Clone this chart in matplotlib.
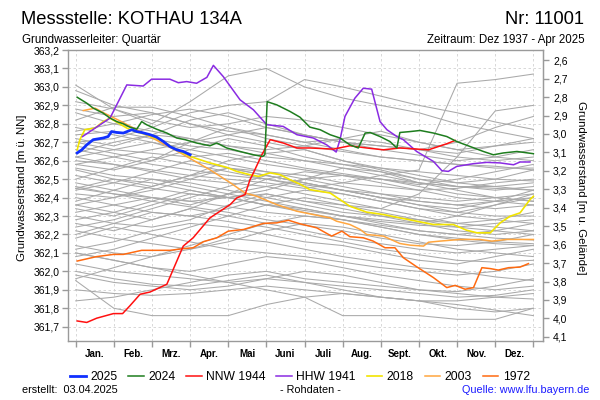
import numpy as np
import matplotlib
matplotlib.use("Agg")
import matplotlib.pyplot as plt
from matplotlib.ticker import FixedLocator, FuncFormatter

plt.rcParams['font.family'] = ['Liberation Sans', 'DejaVu Sans']

# ---------------- data ----------------
ground_level = 365.745  # m ü. NN (for depth axis)
month_labels = ["Jan.", "Feb.", "Mrz.", "Apr.", "Mai", "Juni", "Juli", "Aug.", "Sept.", "Okt.", "Nov.", "Dez."]
left_ticks = [361.7, 361.8, 361.9, 362.0, 362.1, 362.2, 362.3, 362.4, 362.5, 362.6, 362.7, 362.8, 362.9, 363.0, 363.1, 363.2]
right_ticks = [2.6, 2.7, 2.8, 2.9, 3.0, 3.1, 3.2, 3.3, 3.4, 3.5, 3.6, 3.7, 3.8, 3.9, 4.0, 4.1]

# x values are fractional months (0 = 1 Jan, 12 = 31 Dec)
y2025_x = [0.04, 0.16, 0.29, 0.46, 0.72, 0.85, 0.94, 1.08, 1.25, 1.47, 1.60, 1.73, 1.95, 2.12, 2.30, 2.47, 2.65, 2.82, 3.00]
y2025_v = [362.642, 362.659, 362.686, 362.714, 362.723, 362.731, 362.758, 362.753, 362.750, 362.768, 362.758, 362.753,
           362.741, 362.728, 362.704, 362.677, 362.659, 362.650, 362.632]

y2024_x = [0.04, 0.29, 0.46, 0.72, 0.90, 1.08, 1.25, 1.42, 1.60, 1.73, 1.86, 2.12, 2.39, 2.65, 2.87, 3.17, 3.52, 3.70,
           3.96, 4.31, 4.66, 4.90, 4.96, 5.02, 5.27, 5.62, 5.88, 6.14, 6.41, 6.67, 6.93, 7.19, 7.41, 7.59, 7.72, 7.98,
           8.24, 8.42, 8.50, 8.77, 9.03, 9.38, 9.73, 9.99, 10.34, 10.69, 10.95, 11.21, 11.57, 12.0]
y2024_v = [362.944, 362.912, 362.885, 362.858, 362.831, 362.812, 362.800, 362.782, 362.771, 362.812, 362.795, 362.771,
           362.750, 362.723, 362.714, 362.696, 362.681, 362.696, 362.669, 362.650, 362.632, 362.623, 362.632, 362.920,
           362.903, 362.867, 362.836, 362.782, 362.768, 362.741, 362.723, 362.686, 362.669, 362.750, 362.753, 362.731,
           362.704, 362.669, 362.753, 362.758, 362.764, 362.750, 362.731, 362.704, 362.677, 362.650, 362.632, 362.642,
           362.650, 362.638]

nnw1944_x = [0.04, 0.29, 0.55, 0.99, 1.23, 1.42, 1.69, 1.95, 2.39, 2.82, 3.08, 3.52, 4.05, 4.22, 4.44, 4.57, 4.66,
             4.88, 5.10, 5.44, 5.80, 6.14, 6.76, 7.19, 7.63, 8.07, 8.50, 9.25, 9.73, 9.95]
nnw1944_v = [361.731, 361.723, 361.746, 361.771, 361.771, 361.813, 361.876, 361.888, 361.930, 362.137, 362.182,
             362.290, 362.362, 362.398, 362.416, 362.497, 362.534, 362.632, 362.714, 362.696, 362.669, 362.669,
             362.663, 362.681, 362.669, 362.659, 362.669, 362.659, 362.692, 362.710]

hhw1941_x = [0.18, 0.90, 1.34, 1.77, 1.99, 2.47, 2.69, 2.91, 3.17, 3.44, 3.61, 3.87, 4.31, 4.66, 5.01, 5.44, 5.80,
             6.23, 6.58, 6.83, 6.93, 7.06, 7.32, 7.54, 7.76, 7.98, 8.16, 8.42, 8.59, 8.94, 9.38, 9.60, 9.77, 9.99,
             10.43, 10.78, 11.13, 11.48, 11.65, 11.91]
hhw1941_v = [362.731, 362.831, 363.011, 363.005, 363.042, 363.042, 363.023, 363.029, 363.020, 363.052, 363.117,
             363.056, 362.930, 362.876, 362.795, 362.786, 362.741, 362.723, 362.686, 362.647, 362.714, 362.840,
             362.939, 362.993, 362.988, 362.812, 362.768, 362.731, 362.714, 362.650, 362.596, 362.546, 362.542,
             362.569, 362.584, 362.591, 362.588, 362.578, 362.593, 362.593]

y2018_x = [0.04, 0.11, 0.24, 0.51, 0.72, 0.90, 1.12, 1.34, 1.56, 1.86, 2.30, 2.65, 3.00, 3.52, 3.96, 4.22, 4.57, 4.79,
           5.10, 5.36, 5.62, 5.88, 6.14, 6.41, 6.67, 6.93, 7.19, 7.63, 8.07, 8.50, 8.94, 9.38, 9.90, 10.25, 10.52,
           10.87, 11.13, 11.39, 11.65, 11.91, 12.0]
y2018_v = [362.659, 362.714, 362.768, 362.777, 362.812, 362.831, 362.804, 362.777, 362.758, 362.741, 362.704, 362.659,
           362.623, 362.588, 362.564, 362.542, 362.524, 362.515, 362.534, 362.524, 362.497, 362.473, 362.443, 362.434,
           362.425, 362.389, 362.353, 362.321, 362.308, 362.290, 362.272, 362.254, 362.254, 362.223, 362.209, 362.209,
           362.263, 362.299, 362.317, 362.389, 362.407]

y2003_x = [0.20, 0.51, 0.72, 1.16, 1.95, 2.74, 3.52, 4.05, 4.44, 4.75, 5.27, 5.80, 6.23, 6.67, 6.84, 7.19, 7.46, 7.63,
           8.07, 8.50, 8.77, 9.12, 9.25, 9.55, 10.08, 10.60, 10.91, 11.30, 12.0]
y2003_v = [362.872, 362.885, 362.861, 362.816, 362.730, 362.643, 362.551, 362.481, 362.425, 362.407, 362.362, 362.326,
           362.308, 362.290, 362.272, 362.254, 362.227, 362.200, 362.191, 362.151, 362.142, 362.137, 362.158, 362.164,
           362.173, 362.173, 362.164, 362.173, 362.173]

y1972_x = [0.04, 0.55, 0.99, 1.25, 1.73, 2.47, 2.82, 3.08, 3.35, 3.70, 4.00, 4.40, 4.92, 5.27, 5.58, 5.88, 6.14, 6.32,
           6.71, 6.98, 7.19, 7.54, 7.80, 8.11, 8.37, 8.59, 8.94, 9.38, 9.73, 9.95, 10.21, 10.43, 10.65, 10.87, 11.08,
           11.35, 11.65, 11.87]
y1972_v = [362.056, 362.080, 362.092, 362.092, 362.114, 362.114, 362.123, 362.128, 362.161, 362.182, 362.218, 362.227,
           362.260, 362.263, 362.277, 362.258, 362.245, 362.236, 362.191, 362.218, 362.188, 362.182, 362.164, 362.128,
           362.128, 362.074, 362.025, 361.966, 361.912, 361.924, 361.903, 361.912, 362.020, 362.015, 362.007, 362.020,
           362.023, 362.042]

# other years (grey), monthly values at 1 Jan, 1 Feb, ..., 1 Dec, 31 Dec
gray_x = [0, 1, 2, 3, 4, 5, 6, 7, 8, 9, 10, 11, 12]
g01 = [362.98, 362.90, 362.86, 362.80, 362.74, 362.70, 362.66, 362.60, 362.56, 362.52, 362.48, 362.46, 362.44]
g02 = [363.01, 362.88, 362.80, 362.92, 363.06, 363.10, 363.00, 362.94, 362.90, 362.86, 362.80, 362.76, 362.72]
g03 = [362.70, 362.72, 362.78, 362.86, 362.90, 362.92, 363.04, 363.00, 362.95, 362.90, 362.86, 362.81, 362.77]
g04 = [362.62, 362.58, 362.55, 362.52, 362.50, 362.48, 362.45, 362.48, 362.52, 362.55, 363.02, 363.04, 363.07]
g05 = [362.45, 362.42, 362.40, 362.38, 362.40, 362.42, 362.38, 362.36, 362.34, 362.42, 362.62, 362.87, 362.90]
g06 = [362.88, 362.84, 362.86, 362.80, 362.76, 362.74, 362.70, 362.66, 362.62, 362.60, 362.58, 362.56, 362.56]
g07 = [362.82, 362.89, 362.89, 362.84, 362.78, 362.72, 362.68, 362.65, 362.62, 362.60, 362.58, 362.57, 362.55]
g08 = [362.76, 362.80, 362.85, 362.88, 362.84, 362.78, 362.74, 362.70, 362.66, 362.63, 362.60, 362.62, 362.66]
g09 = [362.72, 362.68, 362.74, 362.82, 362.86, 362.80, 362.74, 362.70, 362.68, 362.66, 362.64, 362.68, 362.72]
g10 = [362.68, 362.64, 362.60, 362.70, 362.78, 362.74, 362.70, 362.72, 362.76, 362.70, 362.66, 362.62, 362.60]
g11 = [362.66, 362.62, 362.58, 362.55, 362.52, 362.50, 362.47, 362.44, 362.42, 362.40, 362.38, 362.40, 362.42]
g12 = [362.62, 362.66, 362.70, 362.64, 362.58, 362.54, 362.52, 362.48, 362.46, 362.44, 362.45, 362.48, 362.50]
g13 = [362.58, 362.55, 362.60, 362.66, 362.72, 362.68, 362.62, 362.58, 362.54, 362.50, 362.46, 362.44, 362.46]
g14 = [362.55, 362.50, 362.46, 362.52, 362.60, 362.64, 362.66, 362.60, 362.55, 362.50, 362.48, 362.50, 362.55]
g15 = [362.52, 362.48, 362.45, 362.42, 362.40, 362.44, 362.50, 362.56, 362.54, 362.48, 362.44, 362.40, 362.38]
g16 = [362.50, 362.56, 362.62, 362.58, 362.54, 362.50, 362.46, 362.42, 362.38, 362.34, 362.30, 362.28, 362.26]
g17 = [362.48, 362.44, 362.40, 362.36, 362.42, 362.50, 362.54, 362.52, 362.48, 362.44, 362.40, 362.38, 362.36]
g18 = [362.45, 362.50, 362.48, 362.44, 362.40, 362.36, 362.34, 362.30, 362.28, 362.26, 362.30, 362.36, 362.42]
g19 = [362.42, 362.40, 362.46, 362.52, 362.56, 362.52, 362.48, 362.44, 362.40, 362.36, 362.32, 362.30, 362.30]
g20 = [362.40, 362.36, 362.32, 362.30, 362.34, 362.40, 362.44, 362.42, 362.38, 362.34, 362.32, 362.36, 362.40]
g21 = [362.38, 362.44, 362.50, 362.48, 362.44, 362.40, 362.36, 362.32, 362.30, 362.28, 362.26, 362.24, 362.22]
g22 = [362.36, 362.32, 362.28, 362.34, 362.42, 362.46, 362.42, 362.38, 362.34, 362.30, 362.26, 362.28, 362.32]
g23 = [362.34, 362.30, 362.36, 362.42, 362.40, 362.36, 362.33, 362.30, 362.27, 362.25, 362.24, 362.26, 362.28]
g24 = [362.32, 362.36, 362.40, 362.38, 362.35, 362.32, 362.30, 362.28, 362.25, 362.22, 362.20, 362.18, 362.17]
g25 = [362.30, 362.26, 362.24, 362.28, 362.36, 362.42, 362.38, 362.34, 362.30, 362.26, 362.22, 362.20, 362.22]
g26 = [362.78, 362.74, 362.70, 362.66, 362.62, 362.58, 362.55, 362.52, 362.50, 362.48, 362.46, 362.45, 362.44]
g27 = [362.74, 362.76, 362.72, 362.68, 362.66, 362.62, 362.60, 362.56, 362.52, 362.48, 362.46, 362.46, 362.48]
g28 = [362.70, 362.66, 362.64, 362.62, 362.64, 362.60, 362.56, 362.53, 362.50, 362.47, 362.50, 362.54, 362.58]
g29 = [362.64, 362.70, 362.74, 362.72, 362.68, 362.64, 362.60, 362.58, 362.56, 362.54, 362.52, 362.50, 362.49]
g30 = [362.60, 362.58, 362.54, 362.50, 362.48, 362.46, 362.50, 362.52, 362.50, 362.46, 362.42, 362.40, 362.38]
g31 = [362.26, 362.22, 362.28, 362.34, 362.30, 362.26, 362.22, 362.18, 362.15, 362.12, 362.10, 362.12, 362.14]
g32 = [362.22, 362.18, 362.15, 362.12, 362.16, 362.22, 362.26, 362.24, 362.20, 362.16, 362.12, 362.10, 362.08]
g33 = [362.18, 362.24, 362.20, 362.16, 362.12, 362.10, 362.08, 362.05, 362.02, 362.00, 361.98, 362.00, 362.04]
g34 = [362.14, 362.10, 362.08, 362.12, 362.18, 362.16, 362.12, 362.08, 362.05, 362.02, 362.00, 361.97, 361.95]
g35 = [362.10, 362.06, 362.02, 362.00, 362.04, 362.08, 362.06, 362.02, 361.98, 361.95, 361.92, 361.90, 361.92]
g36 = [362.04, 362.00, 361.98, 361.96, 361.94, 361.96, 362.00, 361.98, 361.94, 361.90, 361.88, 361.86, 361.85]
g37 = [361.98, 361.94, 361.92, 361.90, 361.92, 361.96, 361.94, 361.92, 361.90, 361.88, 361.86, 361.87, 361.90]
g38 = [361.90, 361.88, 361.87, 361.88, 361.90, 361.92, 361.90, 361.88, 361.86, 361.84, 361.84, 361.86, 361.88]
g39 = [361.84, 361.86, 361.90, 361.94, 361.98, 362.00, 361.96, 361.94, 361.92, 361.90, 361.89, 361.92, 361.96]
g40 = [361.95, 361.80, 361.76, 361.76, 361.76, 361.82, 361.86, 361.88, 361.86, 361.84, 361.80, 361.78, 361.80]
g41 = [362.10, 362.06, 362.02, 361.98, 361.94, 361.90, 361.86, 361.76, 361.76, 361.76, 361.74, 361.74, 361.80]
g42 = [362.00, 361.96, 361.93, 361.92, 361.95, 361.98, 361.94, 361.90, 361.86, 361.84, 361.82, 361.79, 361.76]
g43 = [362.56, 362.52, 362.50, 362.46, 362.42, 362.38, 362.34, 362.30, 362.26, 362.22, 362.20, 362.22, 362.26]
g44 = [362.46, 362.42, 362.38, 362.35, 362.32, 362.28, 362.25, 362.22, 362.18, 362.15, 362.14, 362.16, 362.20]
g45 = [362.28, 362.32, 362.38, 362.44, 362.40, 362.36, 362.32, 362.28, 362.24, 362.20, 362.17, 362.15, 362.14]
g46 = [362.20, 362.26, 362.32, 362.30, 362.27, 362.24, 362.20, 362.16, 362.12, 362.09, 362.06, 362.05, 362.06]
g47 = [362.12, 362.16, 362.22, 362.26, 362.24, 362.20, 362.16, 362.14, 362.10, 362.06, 362.04, 362.08, 362.12]
g48 = [362.44, 362.48, 362.54, 362.60, 362.56, 362.52, 362.48, 362.44, 362.40, 362.36, 362.34, 362.38, 362.44]
g49 = [362.36, 362.40, 362.44, 362.50, 362.56, 362.54, 362.50, 362.46, 362.42, 362.38, 362.36, 362.34, 362.36]
g50 = [362.24, 362.28, 362.34, 362.40, 362.46, 362.52, 362.48, 362.44, 362.40, 362.38, 362.36, 362.38, 362.40]
g51 = [362.08, 362.12, 362.18, 362.24, 362.30, 362.36, 362.40, 362.36, 362.32, 362.28, 362.24, 362.22, 362.20]
g52 = [361.96, 362.02, 362.08, 362.14, 362.20, 362.26, 362.30, 362.28, 362.24, 362.20, 362.18, 362.16, 362.15]
g53 = [362.86, 362.80, 362.76, 362.72, 362.68, 362.66, 362.68, 362.72, 362.70, 362.66, 362.62, 362.60, 362.62]
g54 = [362.92, 362.88, 362.82, 362.78, 362.80, 362.84, 362.82, 362.78, 362.74, 362.70, 362.66, 362.68, 362.70]
g55 = [362.58, 362.62, 362.66, 362.70, 362.74, 362.78, 362.74, 362.70, 362.68, 362.66, 362.70, 362.78, 362.84]
gray_series = [g01, g02, g03, g04, g05, g06, g07, g08, g09, g10, g11, g12, g13, g14, g15, g16, g17, g18, g19, g20,
               g21, g22, g23, g24, g25, g26, g27, g28, g29, g30, g31, g32, g33, g34, g35, g36, g37, g38, g39, g40,
               g41, g42, g43, g44, g45, g46, g47, g48, g49, g50, g51, g52, g53, g54, g55]

# ---------------- figure ----------------
fig = plt.figure(figsize=(6, 4), dpi=100)
ax = fig.add_axes([0.1138, 0.14825, 0.7917, 0.728])

for s in gray_series:
    ax.plot(gray_x, s, color='#a9a9a9', lw=0.75, zorder=2)

h1972, = ax.plot(y1972_x, y1972_v, color='#ff6a10', lw=1.1, zorder=3, label='1972')
h2003, = ax.plot(y2003_x, y2003_v, color='#ffa63f', lw=1.1, zorder=3, label='2003')
h2018, = ax.plot(y2018_x, y2018_v, color='#f2e400', lw=1.2, zorder=3, label='2018')
hhhw, = ax.plot(hhw1941_x, hhw1941_v, color='#8a2be2', lw=1.1, zorder=4, label='HHW 1941')
hnnw, = ax.plot(nnw1944_x, nnw1944_v, color='#ff1010', lw=1.1, zorder=4, label='NNW 1944')
h2024, = ax.plot(y2024_x, y2024_v, color='#1e7d1e', lw=1.1, zorder=5, label='2024')
h2025, = ax.plot(y2025_x, y2025_v, color='#1030ff', lw=2.0, zorder=6, label='2025')

ax.set_xlim(-0.194, 12.26)
ax.set_ylim(361.624, 363.203)

frame_col = '#9a9a9a'
for sp in ax.spines.values():
    sp.set_color(frame_col)
    sp.set_linewidth(1.0)

ax.xaxis.set_major_locator(FixedLocator(list(range(13))))
ax.xaxis.set_minor_locator(FixedLocator([i + 0.5 for i in range(12)]))
ax.xaxis.set_major_formatter(FuncFormatter(lambda v, p: ''))
ax.xaxis.set_minor_formatter(FuncFormatter(lambda v, p: month_labels[int(v)] if 0 <= int(v) < 12 else ''))
ax.tick_params(axis='x', which='major', length=4, color=frame_col, width=1)
ax.tick_params(axis='x', which='minor', length=0, pad=6)
for lab in ax.get_xticklabels(minor=True):
    lab.set_fontweight('bold')
    lab.set_fontsize(7)

ax.set_yticks(left_ticks)
ax.set_yticklabels([f"{v:.1f}".replace('.', ',') for v in left_ticks], fontsize=7.5)
ax.tick_params(axis='y', length=4, color=frame_col, width=1, pad=2)

ax.grid(True, which='major', color='#d2d2d2', linestyle=(0, (3, 3)), linewidth=0.6)
ax.set_axisbelow(True)

sec = ax.secondary_yaxis('right', functions=(lambda L: ground_level - L, lambda d: ground_level - d))
sec.set_yticks(right_ticks)
sec.set_yticklabels([f"{v:.1f}".replace('.', ',') for v in right_ticks], fontsize=7.5)
sec.tick_params(axis='y', length=4, color=frame_col, width=1, pad=3)
sec.spines['right'].set_color(frame_col)

# axis labels
fig.text(0.037, 0.53, "Grundwasserstand [m ü. NN]", rotation=90, va='center', ha='center', fontsize=8.2)
fig.text(0.968, 0.53, "Grundwasserstand [m u. Gelände]", rotation=270, va='center', ha='center', fontsize=8.2)

# titles
fig.text(0.035, 0.9405, "Messstelle: KOTHAU 134A", fontsize=13.2, ha='left', va='baseline')
fig.text(0.973, 0.9405, "Nr: 11001", fontsize=13.2, ha='right', va='baseline')
fig.text(0.037, 0.892, "Grundwasserleiter: Quartär", fontsize=8.3, ha='left', va='baseline')
fig.text(0.975, 0.892, "Zeitraum: Dez 1937 - Apr 2025", fontsize=8.3, ha='right', va='baseline')

# legend
fig.legend(handles=[h2025, h2024, hnnw, hhhw, h2018, h2003, h1972], loc='center',
           bbox_to_anchor=(0.5, 0.0575), ncol=7, frameon=False, fontsize=8.7,
           handlelength=1.3, handletextpad=0.35, columnspacing=0.9, borderaxespad=0)

# footer
fig.text(0.037, 0.025, "erstellt:  03.04.2025", fontsize=7.8, ha='left', va='center')
fig.text(0.518, 0.025, "- Rohdaten -", fontsize=7.8, ha='center', va='center')
fig.text(0.983, 0.025, "Quelle: www.lfu.bayern.de", fontsize=7.8, ha='right', va='center', color='#1a1aff')

fig.savefig("out.png", dpi=100)
